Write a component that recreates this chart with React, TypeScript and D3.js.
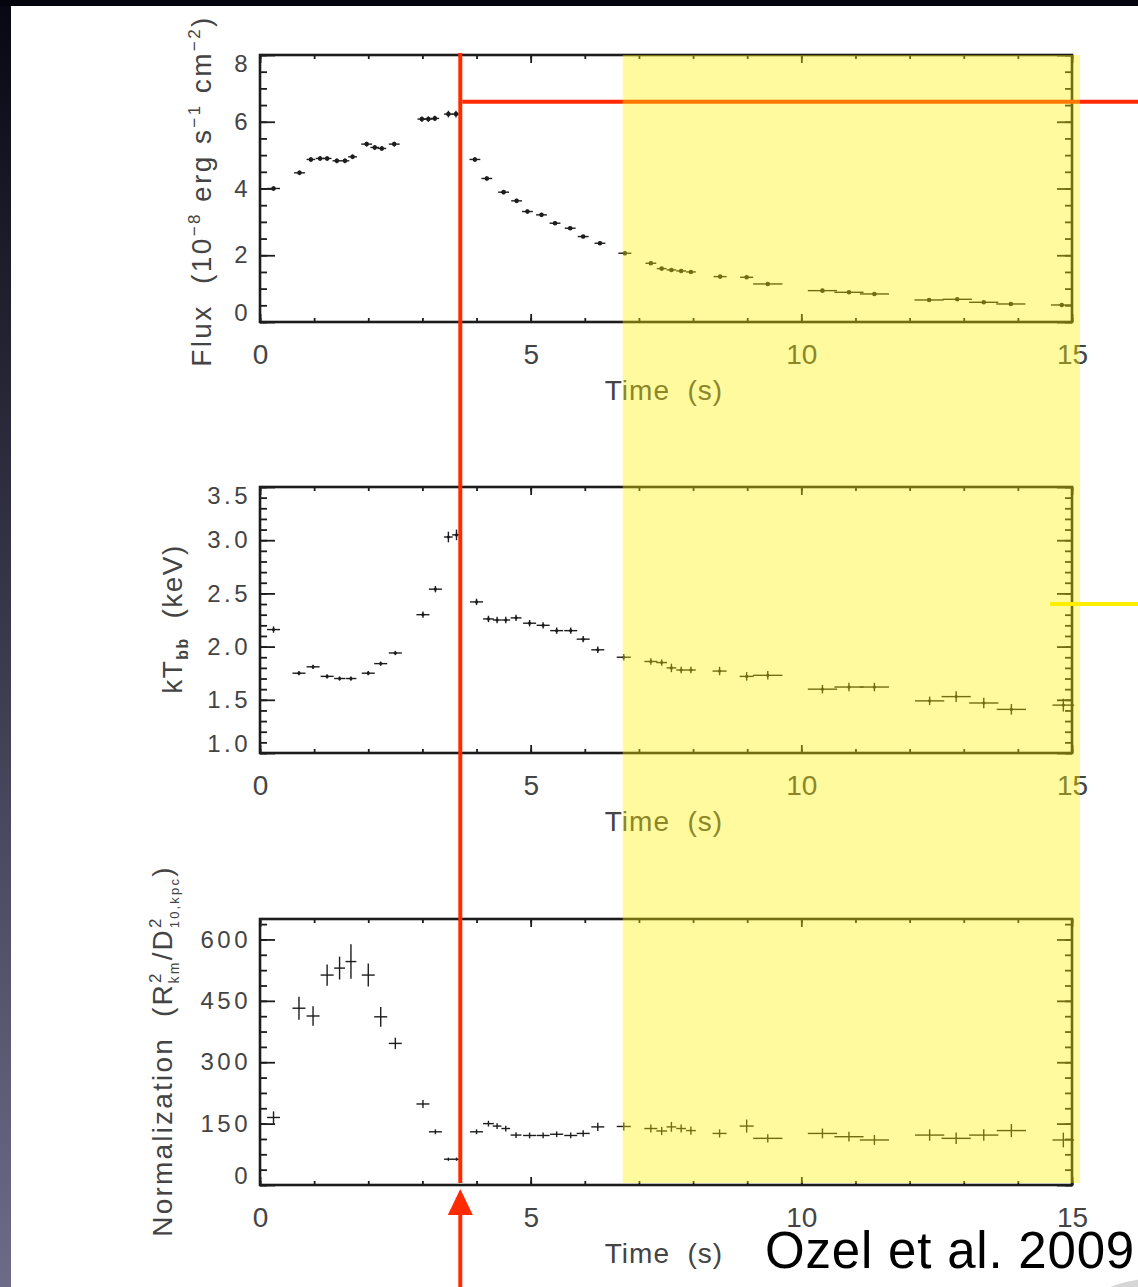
import * as d3 from "d3";
import { useEffect, useRef } from "react";

const WIDTH = 1138;
const HEIGHT = 1287;

// Flux panel (finer time bins)
const fluxTime = [0.25, 0.73, 0.94, 1.11, 1.24, 1.42, 1.57, 1.71, 1.97, 2.12, 2.25, 2.48, 2.99, 3.11, 3.23, 3.48, 3.62, 3.97, 4.19, 4.5, 4.74, 4.94, 5.2, 5.45, 5.73, 5.97, 6.28, 6.74, 7.22, 7.42, 7.6, 7.78, 7.96, 8.5, 8.99, 9.38, 10.39, 10.88, 11.35, 12.36, 12.88, 13.37, 13.87, 14.81];
const fluxTimeErr = [0.12, 0.1, 0.08, 0.08, 0.08, 0.08, 0.08, 0.08, 0.1, 0.08, 0.08, 0.1, 0.08, 0.08, 0.08, 0.08, 0.08, 0.1, 0.1, 0.1, 0.1, 0.1, 0.1, 0.1, 0.1, 0.1, 0.1, 0.12, 0.1, 0.09, 0.09, 0.09, 0.09, 0.12, 0.12, 0.27, 0.27, 0.27, 0.27, 0.27, 0.27, 0.27, 0.27, 0.2];
const flux = [4.0, 4.47, 4.87, 4.9, 4.9, 4.83, 4.83, 4.95, 5.33, 5.23, 5.2, 5.33, 6.08, 6.08, 6.1, 6.23, 6.23, 4.87, 4.3, 3.89, 3.63, 3.31, 3.21, 2.96, 2.81, 2.56, 2.36, 2.06, 1.76, 1.6, 1.56, 1.53, 1.5, 1.36, 1.34, 1.14, 0.94, 0.89, 0.84, 0.66, 0.68, 0.59, 0.54, 0.51];
const fluxErr = [0.07, 0.07, 0.07, 0.07, 0.07, 0.07, 0.07, 0.07, 0.07, 0.07, 0.07, 0.07, 0.08, 0.08, 0.08, 0.1, 0.1, 0.07, 0.06, 0.06, 0.06, 0.06, 0.06, 0.05, 0.05, 0.05, 0.05, 0.05, 0.05, 0.05, 0.05, 0.04, 0.04, 0.04, 0.04, 0.04, 0.03, 0.03, 0.03, 0.03, 0.03, 0.03, 0.03, 0.03];

// spectral panels (kT and normalization share the bins)
const specTime = [0.25, 0.72, 0.98, 1.24, 1.47, 1.68, 2.0, 2.23, 2.5, 3.01, 3.24, 3.48, 3.63, 4.0, 4.22, 4.38, 4.54, 4.73, 4.98, 5.23, 5.48, 5.74, 5.97, 6.24, 6.72, 7.22, 7.42, 7.6, 7.78, 7.96, 8.49, 8.99, 9.38, 10.39, 10.88, 11.35, 12.37, 12.86, 13.37, 13.88, 14.84];
const specTimeErr = [0.12, 0.12, 0.12, 0.12, 0.1, 0.1, 0.12, 0.12, 0.12, 0.12, 0.12, 0.08, 0.08, 0.12, 0.1, 0.08, 0.08, 0.1, 0.12, 0.12, 0.12, 0.12, 0.12, 0.12, 0.13, 0.12, 0.1, 0.09, 0.09, 0.09, 0.13, 0.13, 0.27, 0.27, 0.27, 0.27, 0.27, 0.27, 0.27, 0.27, 0.2];
const kT = [2.16, 1.75, 1.81, 1.72, 1.7, 1.7, 1.75, 1.84, 1.94, 2.3, 2.54, 3.03, 3.05, 2.42, 2.26, 2.25, 2.25, 2.27, 2.22, 2.2, 2.15, 2.15, 2.07, 1.97, 1.9, 1.86, 1.85, 1.8, 1.78, 1.78, 1.77, 1.72, 1.73, 1.6, 1.62, 1.62, 1.49, 1.53, 1.47, 1.41, 1.45];
const kTErr = [0.03, 0.02, 0.02, 0.02, 0.02, 0.02, 0.02, 0.02, 0.02, 0.03, 0.03, 0.05, 0.05, 0.03, 0.03, 0.03, 0.03, 0.03, 0.03, 0.03, 0.03, 0.03, 0.03, 0.03, 0.03, 0.03, 0.03, 0.04, 0.03, 0.03, 0.04, 0.04, 0.04, 0.04, 0.04, 0.04, 0.04, 0.05, 0.05, 0.05, 0.06];
const norm = [165, 432, 413, 513, 530, 546, 513, 411, 346, 198, 130, 63, 63, 130, 150, 144, 138, 122, 121, 121, 124, 121, 126, 142, 143, 138, 132, 142, 138, 133, 126, 144, 114, 126, 118, 110, 122, 114, 122, 133, 110];
const normErr = [15, 28, 24, 26, 28, 42, 28, 24, 14, 10, 6, 4, 4, 6, 7, 7, 7, 7, 7, 7, 7, 7, 8, 10, 10, 10, 10, 12, 10, 10, 10, 16, 10, 12, 12, 12, 14, 14, 14, 16, 18];

const timeTicks = [0, 5, 10, 15];
const fluxTicks = [0, 2, 4, 6, 8];
const kTTicks = [1.0, 1.5, 2.0, 2.5, 3.0, 3.5];
const normTicks = [0, 150, 300, 450, 600];

// marked times / regions
const peakTime = 3.7;
const decayStart = 6.7;

const FONT = "'Liberation Sans', Arial, Helvetica, sans-serif";
const INK = "#1c1c1c";
const LABEL = "#444";

export default function App() {
    const ref = useRef<SVGSVGElement | null>(null);

    useEffect(() => {
        const svg = d3.select(ref.current);
        svg.selectAll("*").remove();

        const x = d3.scaleLinear([0, 15], [260, 1072]);

        // slide background
        const defs = svg.append("defs");
        const grad = defs.append("linearGradient").attr("id", "side").attr("x1", 0).attr("y1", 0).attr("x2", 0).attr("y2", 1);
        grad.append("stop").attr("offset", "0%").attr("stop-color", "#080814");
        grad.append("stop").attr("offset", "100%").attr("stop-color", "#6c6c88");
        svg.append("rect").attr("width", WIDTH).attr("height", HEIGHT).attr("fill", "url(#side)");
        svg.append("rect").attr("width", WIDTH).attr("height", 6).attr("fill", "#04040c");
        svg.append("rect").attr("x", 11).attr("y", 6).attr("width", WIDTH - 11).attr("height", HEIGHT - 6).attr("fill", "#fff");
        svg.append("ellipse").attr("cx", 1165).attr("cy", 1302).attr("rx", 70).attr("ry", 24).attr("fill", "#d6d6d6");

        const panels = [
            { top: 55, bottom: 322, domain: [0, 8], ticks: fluxTicks, minor: 0.5, fmt: (v: number) => d3.format("d")(v), time: fluxTime, tErr: fluxTimeErr, val: flux, vErr: fluxErr, dot: 2.3 },
            { top: 487, bottom: 753, domain: [1, 3.5], ticks: kTTicks, minor: 0.1, fmt: (v: number) => d3.format(".1f")(v), time: specTime, tErr: specTimeErr, val: kT, vErr: kTErr, dot: 1.6 },
            { top: 919, bottom: 1185, domain: [0, 650], ticks: normTicks, minor: 37.5, fmt: (v: number) => d3.format("d")(v), time: specTime, tErr: specTimeErr, val: norm, vErr: normErr, dot: 0 },
        ];

        const styleAxis = (sel: any) => {
            sel.select(".domain").remove();
            sel.selectAll("line").attr("stroke", INK).attr("stroke-width", 1.8);
        };

        panels.forEach((p) => {
            const y = d3.scaleLinear(p.domain, [p.bottom, p.top]);
            const g = svg.append("g");
            const xMinor = d3.range(0, 16, 1);
            const yMinor = d3.range(p.domain[0], p.domain[1] + 1e-9, p.minor);

            // inward ticks on all four sides
            g.append("g").attr("transform", `translate(0,${p.bottom})`).call(d3.axisBottom(x).tickValues(xMinor).tickSize(-4).tickFormat(() => "")).call(styleAxis);
            g.append("g").attr("transform", `translate(0,${p.top})`).call(d3.axisTop(x).tickValues(xMinor).tickSize(-4).tickFormat(() => "")).call(styleAxis);
            g.append("g").attr("transform", `translate(0,${p.top})`).call(d3.axisTop(x).tickValues(timeTicks).tickSize(-8).tickFormat(() => "")).call(styleAxis);
            g.append("g").attr("transform", `translate(${x(0)},0)`).call(d3.axisLeft(y).tickValues(yMinor).tickSize(-7).tickFormat(() => "")).call(styleAxis);
            g.append("g").attr("transform", `translate(${x(15)},0)`).call(d3.axisRight(y).tickValues(yMinor).tickSize(-7).tickFormat(() => "")).call(styleAxis);
            g.append("g").attr("transform", `translate(${x(15)},0)`).call(d3.axisRight(y).tickValues(p.ticks).tickSize(-15).tickFormat(() => "")).call(styleAxis);

            const xb = g.append("g").attr("transform", `translate(0,${p.bottom})`)
                .call(d3.axisBottom(x).tickValues(timeTicks).tickSize(-8).tickPadding(22).tickFormat(d3.format("d")))
                .call(styleAxis);
            xb.selectAll("text").attr("font-family", FONT).attr("font-size", 28).attr("fill", LABEL);

            const yl = g.append("g").attr("transform", `translate(${x(0)},0)`)
                .call(d3.axisLeft(y).tickValues(p.ticks).tickSize(-15).tickPadding(9).tickFormat((v: any) => p.fmt(v)))
                .call(styleAxis);
            yl.selectAll("text")
                .attr("font-family", FONT).attr("font-size", 24).attr("fill", LABEL)
                .attr("letter-spacing", 3.5)
                .attr("y", (v: any) => {
                    const py = y(v);
                    if (py - p.top < 9) return 9 - (py - p.top);
                    if (p.bottom - py < 9) return -(9 - (p.bottom - py));
                    return 0;
                });

            g.append("rect")
                .attr("x", x(0)).attr("y", p.top)
                .attr("width", x(15) - x(0)).attr("height", p.bottom - p.top)
                .attr("fill", "none").attr("stroke", INK).attr("stroke-width", 2.6);

            g.append("text")
                .attr("x", (x(0) + x(15)) / 2 - 2).attr("y", p.bottom + 78)
                .attr("text-anchor", "middle").attr("font-family", FONT).attr("font-size", 28)
                .attr("fill", LABEL).attr("letter-spacing", 1).style("white-space", "pre")
                .text("Time  (s)");

            // data with error bars
            const pts = g.append("g").attr("stroke", INK).attr("stroke-width", 1.4);
            const idx = d3.range(p.time.length);
            pts.selectAll("line.xe").data(idx).join("line")
                .attr("x1", (i) => x(p.time[i] - p.tErr[i])).attr("x2", (i) => x(p.time[i] + p.tErr[i]))
                .attr("y1", (i) => y(p.val[i])).attr("y2", (i) => y(p.val[i]));
            pts.selectAll("line.ye").data(idx).join("line")
                .attr("x1", (i) => x(p.time[i])).attr("x2", (i) => x(p.time[i]))
                .attr("y1", (i) => y(p.val[i] - p.vErr[i])).attr("y2", (i) => y(p.val[i] + p.vErr[i]));
            if (p.dot > 0) {
                g.append("g").selectAll("circle").data(idx).join("circle")
                    .attr("cx", (i) => x(p.time[i])).attr("cy", (i) => y(p.val[i]))
                    .attr("r", p.dot).attr("fill", INK);
            }
        });

        // y axis titles
        const title = (tx: number, ty: number, spacing: number) =>
            svg.append("text")
                .attr("transform", `translate(${tx},${ty}) rotate(-90)`)
                .attr("text-anchor", "middle").attr("font-family", FONT).attr("font-size", 28)
                .attr("fill", LABEL).attr("letter-spacing", spacing).style("white-space", "pre");

        const t1 = title(211, 191, 2.4);
        t1.append("tspan").text("Flux  (10");
        t1.append("tspan").attr("dy", -11).attr("font-size", 17).text("\u22128");
        t1.append("tspan").attr("dy", 11).text(" erg s");
        t1.append("tspan").attr("dy", -11).attr("font-size", 17).text("\u22121");
        t1.append("tspan").attr("dy", 11).text(" cm");
        t1.append("tspan").attr("dy", -11).attr("font-size", 17).text("\u22122");
        t1.append("tspan").attr("dy", 11).text(")");

        const t2 = title(182, 619, 1.5);
        t2.append("tspan").text("kT");
        t2.append("tspan").attr("dy", 6).attr("font-size", 16).attr("font-weight", "bold").text("bb");
        t2.append("tspan").attr("dy", -6).text("  (keV)");

        const t3 = title(172, 1051, 2.2);
        t3.append("tspan").text("Normalization  (R");
        t3.append("tspan").attr("dy", -11).attr("font-size", 17).text("2");
        t3.append("tspan").attr("dx", -12).attr("dy", 18).attr("font-size", 14).text("km");
        t3.append("tspan").attr("dy", -7).text("/D");
        t3.append("tspan").attr("dy", -11).attr("font-size", 17).text("2");
        t3.append("tspan").attr("dx", -12).attr("dy", 18).attr("font-size", 13).text("10,kpc");
        t3.append("tspan").attr("dy", -7).text(")");

        // annotations: peak marker and decay region
        const red = "#ff2a00";
        const fy = d3.scaleLinear([0, 8], [322, 55]);
        const px = x(peakTime);
        svg.append("line").attr("x1", px).attr("x2", px).attr("y1", 53).attr("y2", 1183)
            .attr("stroke", red).attr("stroke-width", 4);
        svg.append("line").attr("x1", px).attr("x2", px).attr("y1", 1212).attr("y2", HEIGHT)
            .attr("stroke", red).attr("stroke-width", 4);
        svg.append("path").attr("d", `M${px},1189 L${px - 12.5},1215 L${px + 12.5},1215 Z`).attr("fill", red);
        svg.append("line").attr("x1", px + 2).attr("x2", WIDTH).attr("y1", fy(6.6)).attr("y2", fy(6.6))
            .attr("stroke", red).attr("stroke-width", 4);

        svg.append("rect")
            .attr("x", x(decayStart)).attr("y", 55)
            .attr("width", 1080 - x(decayStart)).attr("height", 1183 - 55)
            .attr("fill", "rgb(255,242,0)").attr("fill-opacity", 0.38);

        const ky = d3.scaleLinear([1, 3.5], [753, 487]);
        svg.append("line").attr("x1", 1050).attr("x2", WIDTH).attr("y1", ky(2.40)).attr("y2", ky(2.40))
            .attr("stroke", "#ffee00").attr("stroke-width", 4);

        svg.append("text")
            .attr("x", 765).attr("y", 1268)
            .attr("font-family", "'Liberation Sans', Arial, sans-serif").attr("font-size", 51)
            .attr("letter-spacing", 0.8)
            .attr("fill", "#000")
            .text("Ozel et al. 2009");
    }, []);

    return (
        <svg
            ref={ref}
            width={WIDTH}
            height={HEIGHT}
            style={{ position: "absolute", left: 0, top: 0, display: "block" }}
        />
    );
}
